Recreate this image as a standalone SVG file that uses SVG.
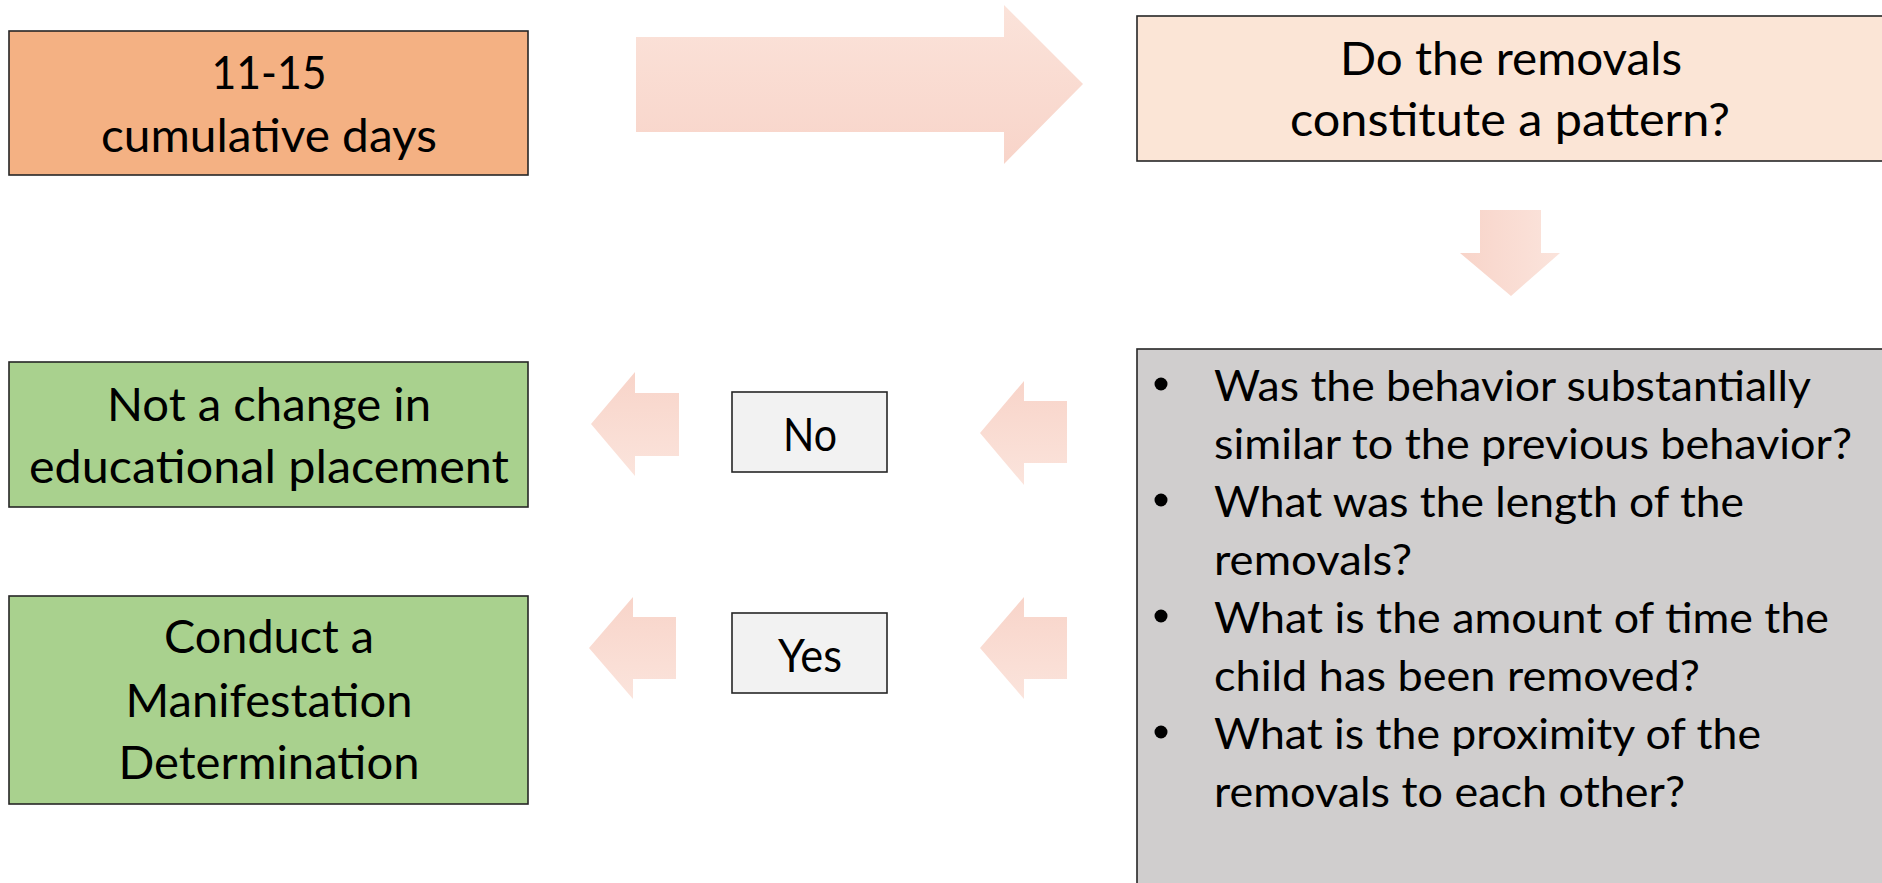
<svg xmlns="http://www.w3.org/2000/svg" width="1882" height="883" viewBox="0 0 1882 883">
<defs>
<linearGradient id="gV" x1="0" y1="0" x2="0" y2="1"><stop offset="0" stop-color="#FBE3DA"/><stop offset="1" stop-color="#F8D4C9"/></linearGradient>
<linearGradient id="gVr" x1="0" y1="0" x2="0" y2="1"><stop offset="0" stop-color="#F8D4C9"/><stop offset="1" stop-color="#FBE4DC"/></linearGradient>
<linearGradient id="gH" x1="0" y1="0" x2="1" y2="0"><stop offset="0" stop-color="#F8D4C9"/><stop offset="1" stop-color="#FBE4DC"/></linearGradient>
<style>
.box{stroke:#262626;stroke-width:1.6}
.t{font-family:Lato,"Open Sans","Liberation Sans",sans-serif;font-weight:400;fill:#000;font-size:47px}
.c{text-anchor:middle}
.b{font-size:43px}
</style>
</defs>
<g id="connectors">
<path d="M636,37 H1004 V5 L1083,84 L1004,164 V132 H636 Z" fill="url(#gV)"/>
<path d="M1480,210 H1541 V253 H1560 L1511,296 L1460,253 H1480 Z" fill="url(#gH)"/>
<path d="M1067,401 H1024 V381 L980,433 L1024,485 V463 H1067 Z" fill="url(#gVr)"/>
<path d="M679,393 H635 V372 L591,424 L635,476 V456 H679 Z" fill="url(#gVr)"/>
<path d="M1067,617 H1024 V597 L980,648 L1024,699 V679 H1067 Z" fill="url(#gVr)"/>
<path d="M676,617 H633 V597 L589,648 L633,699 V679 H676 Z" fill="url(#gVr)"/>
</g>
<g id="days">
<rect class="box" x="9" y="31" width="519" height="144" fill="#F4B183"/>
<text class="t c" x="269" y="89" textLength="115" lengthAdjust="spacingAndGlyphs">11-15</text>
<text class="t c" x="269" y="152" textLength="336" lengthAdjust="spacingAndGlyphs">cumulative days</text>
</g>
<g id="pattern">
<rect class="box" x="1137" y="16" width="760" height="145" fill="#FBE5D6"/>
<text class="t c" x="1511" y="75" textLength="342" lengthAdjust="spacingAndGlyphs">Do the removals</text>
<text class="t c" x="1510" y="136" textLength="440" lengthAdjust="spacingAndGlyphs">constitute a pattern?</text>
</g>
<g id="questions">
<rect class="box" x="1137" y="349" width="760" height="560" fill="#D0CECE"/>
<circle cx="1161" cy="384" r="6.5" fill="#000"/>
<circle cx="1161" cy="500" r="6.5" fill="#000"/>
<circle cx="1161" cy="616" r="6.5" fill="#000"/>
<circle cx="1161" cy="732" r="6.5" fill="#000"/>
<text class="t b" x="1214" y="401" textLength="597" lengthAdjust="spacingAndGlyphs">Was the behavior substantially</text>
<text class="t b" x="1214" y="459" textLength="638" lengthAdjust="spacingAndGlyphs">similar to the previous behavior?</text>
<text class="t b" x="1214" y="517" textLength="530" lengthAdjust="spacingAndGlyphs">What was the length of the</text>
<text class="t b" x="1214" y="575" textLength="198" lengthAdjust="spacingAndGlyphs">removals?</text>
<text class="t b" x="1214" y="633" textLength="615" lengthAdjust="spacingAndGlyphs">What is the amount of time the</text>
<text class="t b" x="1214" y="691" textLength="486" lengthAdjust="spacingAndGlyphs">child has been removed?</text>
<text class="t b" x="1214" y="749" textLength="547" lengthAdjust="spacingAndGlyphs">What is the proximity of the</text>
<text class="t b" x="1214" y="807" textLength="471" lengthAdjust="spacingAndGlyphs">removals to each other?</text>
</g>
<g id="no">
<rect class="box" x="732" y="392" width="155" height="80" fill="#F2F2F2"/>
<text class="t c" x="810" y="451" textLength="54" lengthAdjust="spacingAndGlyphs">No</text>
</g>
<g id="yes">
<rect class="box" x="732" y="613" width="155" height="80" fill="#F2F2F2"/>
<text class="t c" x="810" y="672" textLength="64" lengthAdjust="spacingAndGlyphs">Yes</text>
</g>
<g id="not-change">
<rect class="box" x="9" y="362" width="519" height="145" fill="#A9D18E"/>
<text class="t c" x="269" y="421" textLength="324" lengthAdjust="spacingAndGlyphs">Not a change in</text>
<text class="t c" x="269" y="483" textLength="480" lengthAdjust="spacingAndGlyphs">educational placement</text>
</g>
<g id="manifestation">
<rect class="box" x="9" y="596" width="519" height="208" fill="#A9D18E"/>
<text class="t c" x="269" y="653" textLength="210" lengthAdjust="spacingAndGlyphs">Conduct a</text>
<text class="t c" x="269" y="717" textLength="287" lengthAdjust="spacingAndGlyphs">Manifestation</text>
<text class="t c" x="269" y="779" textLength="301" lengthAdjust="spacingAndGlyphs">Determination</text>
</g>
</svg>
